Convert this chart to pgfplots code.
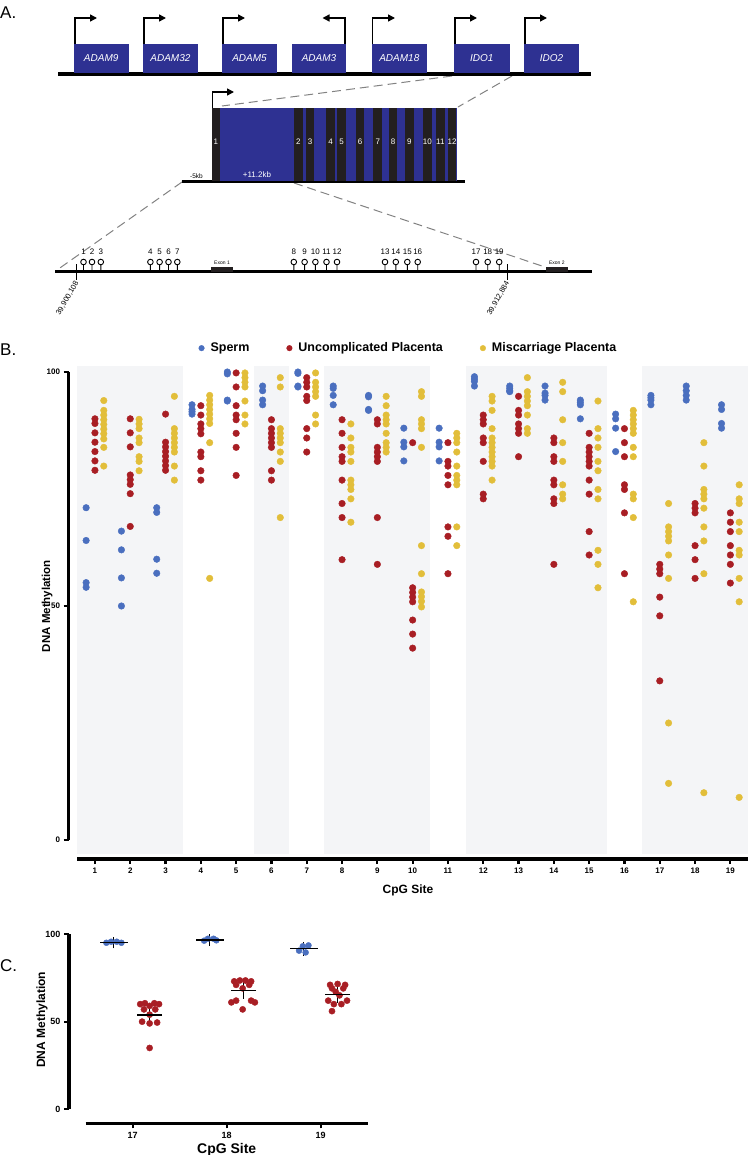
\documentclass[border=0pt]{standalone}
\usepackage{fontspec}
\setmainfont{Liberation Sans}
\usepackage{pgfplots}
\usepackage{pgfplotstable}
\pgfplotsset{compat=1.18}
\usetikzlibrary{arrows.meta}

\definecolor{sperm}{RGB}{74,111,191}
\definecolor{ucp}{RGB}{168,30,36}
\definecolor{mcp}{RGB}{226,190,58}
\definecolor{band}{RGB}{244,245,247}
\definecolor{gene}{RGB}{46,49,146}
\definecolor{exon}{RGB}{35,31,32}
\definecolor{dashgray}{RGB}{130,130,130}

% panel B: one row per sample, s = CpG site, v = % methylation
\pgfplotstableread[row sep=\\]{s v\\
1 71\\1 64\\1 55\\1 54\\
2 66\\2 62\\2 56\\2 50\\
3 71\\3 70\\3 60\\3 57\\
4 93\\4 92\\4 91.5\\4 91\\
5 100\\5 99.6\\5 94\\5 93.8\\
6 97\\6 96\\6 94\\6 93\\
7 100\\7 99.7\\7 97\\7 96.8\\
8 97\\8 96.5\\8 95\\8 93\\
9 95\\9 94.7\\9 92\\9 91.8\\
10 88\\10 85\\10 84\\10 81\\
11 88\\11 85\\11 84\\11 81\\
12 99\\12 98.5\\12 98\\12 97\\
13 97\\13 96.5\\13 96\\13 95.8\\
14 97\\14 95.5\\14 95\\14 94\\
15 94\\15 93.5\\15 93\\15 90\\
16 91\\16 90\\16 88\\16 83\\
17 95\\17 94.5\\17 94\\17 93\\
18 97\\18 96\\18 95\\18 94\\
19 93\\19 92\\19 89\\19 88\\
}\spermtab

\pgfplotstableread[row sep=\\]{s v\\
1 90\\1 89\\1 87\\1 85\\1 83\\1 81\\1 79\\
2 90\\2 87\\2 84\\2 78\\2 77\\2 76\\2 74\\2 67\\
3 91\\3 85\\3 84\\3 83\\3 82\\3 81\\3 80\\3 79\\
4 92.8\\4 90.8\\4 88.9\\4 87.9\\4 86.8\\4 82.9\\4 81.9\\4 78.9\\4 76.9\\
5 99.8\\5 96.8\\5 92.8\\5 90.8\\5 89.8\\5 86.9\\5 83.9\\5 77.9\\
6 89.8\\6 87.9\\6 86.9\\6 85.9\\6 84.9\\6 83.9\\6 78.9\\6 76.9\\
7 98.8\\7 97.8\\7 96.8\\7 94.8\\7 93.9\\7 87.9\\7 85.9\\7 82.9\\
8 89.8\\8 86.9\\8 83.9\\8 81.9\\8 80.9\\8 76.9\\8 71.9\\8 68.9\\8 59.9\\
9 89.8\\9 88.9\\9 83.9\\9 82.9\\9 81.9\\9 80.9\\9 68.9\\9 58.9\\
10 84.9\\10 53.9\\10 52.9\\10 51.9\\10 50.9\\10 47\\10 44\\10 41\\
11 84.9\\11 80.9\\11 79.9\\11 77.9\\11 75.9\\11 66.9\\11 64.9\\11 56.9\\
12 90.8\\12 89.8\\12 88.9\\12 85.9\\12 84.9\\12 80.9\\12 73.9\\12 72.9\\
13 94.8\\13 91.8\\13 90.8\\13 88.9\\13 87.9\\13 86.9\\13 81.9\\
14 85.9\\14 84.9\\14 81.9\\14 80.9\\14 76.9\\14 75.9\\14 72.9\\14 71.9\\14 58.9\\
15 86.9\\15 83.9\\15 82.9\\15 81.9\\15 80.9\\15 79.9\\15 76.9\\15 73.9\\15 65.9\\15 60.9\\
16 87.9\\16 84.9\\16 81.9\\16 75.9\\16 74.9\\16 69.9\\16 56.9\\
17 58.9\\17 57.9\\17 56.9\\17 51.9\\17 47.9\\17 34\\
18 71.9\\18 70.9\\18 69.9\\18 62.9\\18 59.9\\18 55.9\\
19 69.9\\19 67.9\\19 65.9\\19 62.9\\19 60.9\\19 58.9\\19 54.9\\
}\ucptab

\pgfplotstableread[row sep=\\]{s v\\
1 93.9\\1 91.8\\1 90.8\\1 89.8\\1 88.8\\1 87.8\\1 86.8\\1 85.7\\1 83.9\\1 79.9\\
2 89.9\\2 88.9\\2 87.9\\2 85.9\\2 84.9\\2 81.9\\2 80.9\\2 78.9\\
3 94.8\\3 87.9\\3 86.9\\3 85.9\\3 84.9\\3 83.9\\3 82.9\\3 79.9\\3 76.9\\
4 95\\4 94\\4 93\\4 92\\4 91\\4 90\\4 89\\4 84.9\\4 55.9\\
5 99.8\\5 98.8\\5 97.8\\5 96.8\\5 93.8\\5 90.8\\5 88.9\\
6 98.8\\6 96.8\\6 87.9\\6 86.9\\6 85.9\\6 84.9\\6 82.9\\6 80.9\\6 68.9\\
7 99.8\\7 97.8\\7 96.8\\7 95.8\\7 94.8\\7 90.8\\7 88.9\\
8 88.9\\8 85.9\\8 83.9\\8 82.9\\8 80.9\\8 76.9\\8 75.9\\8 74.9\\8 72.9\\8 67.9\\
9 94.8\\9 92.8\\9 90.8\\9 89.8\\9 88.9\\9 86.9\\9 84.9\\9 83.9\\9 82.9\\
10 95.8\\10 94.8\\10 89.8\\10 88.9\\10 87.9\\10 83.9\\10 62.9\\10 56.9\\10 53\\10 52\\10 51\\10 49.8\\
11 86.9\\11 85.9\\11 84.9\\11 82.9\\11 79.9\\11 77.9\\11 76.9\\11 75.9\\11 66.9\\11 62.9\\
12 94.8\\12 93.8\\12 91.8\\12 87.9\\12 85.9\\12 84.9\\12 83.9\\12 82.9\\12 81.9\\12 80.9\\12 79.9\\12 76.9\\
13 98.8\\13 95.8\\13 94.8\\13 93.8\\13 92.8\\13 90.8\\13 87.9\\13 86.9\\
14 97.8\\14 95.8\\14 89.8\\14 84.9\\14 80.9\\14 75.9\\14 73.9\\14 72.9\\
15 93.8\\15 87.9\\15 85.9\\15 83.9\\15 80.9\\15 78.9\\15 74.9\\15 72.9\\15 61.9\\15 58.9\\15 53.9\\
16 91.8\\16 90.8\\16 89.8\\16 88.9\\16 87.9\\16 86.9\\16 83.9\\16 81.9\\16 73.9\\16 72.9\\16 68.9\\16 50.9\\
17 71.9\\17 66.9\\17 65.9\\17 64.9\\17 63.9\\17 60.9\\17 55.9\\17 25\\17 12.1\\
18 84.9\\18 79.9\\18 74.9\\18 73.9\\18 72.9\\18 70.9\\18 66.9\\18 63.9\\18 56.9\\18 10.1\\
19 75.9\\19 72.9\\19 71.9\\19 67.9\\19 65.9\\19 61.9\\19 60.9\\19 55.9\\19 50.9\\19 9.1\\
}\mcptab

\newcommand\fs[1]{\fontsize{#1}{#1}\selectfont}

\begin{document}
\begin{tikzpicture}
\path[use as bounding box] (0pt,0pt) rectangle (750pt,-1155pt);

\node[anchor=west, inner sep=0pt, font=\fs{17}] at (0pt,-13pt) {A.};
\node[anchor=west, inner sep=0pt, font=\fs{17}] at (0pt,-350pt) {B.};
\node[anchor=west, inner sep=0pt, font=\fs{17}] at (0pt,-966pt) {C.};

% ---------- panel A: gene schematic, in pixel units ----------
\begin{axis}[scale only axis, width=750pt, height=320pt,
  at={(0pt,0pt)}, anchor=north west,
  xmin=0, xmax=750, ymin=0, ymax=320, y dir=reverse,
  hide axis, clip=false]
% dashed zoom lines
\draw[dashgray, line width=1pt, dash pattern=on 9pt off 5pt] (452,76) -- (222,106);
\draw[dashgray, line width=1pt, dash pattern=on 9pt off 5pt] (512,76) -- (458,107);
\draw[dashgray, line width=1pt, dash pattern=on 9pt off 5pt] (182,182) -- (57,270);
\draw[dashgray, line width=1pt, dash pattern=on 9pt off 5pt] (294,183) -- (545,267);
% locus
\draw[line width=3.5pt] (58,74) -- (591,74);
\fill[gene] (73.5,44) rectangle (128.8,73);
\fill[gene] (142.8,44) rectangle (198,73);
\fill[gene] (222,44) rectangle (277,73);
\fill[gene] (292,44) rectangle (346,73);
\fill[gene] (371.6,44) rectangle (427,73);
\fill[gene] (454,44) rectangle (509.6,73);
\fill[gene] (524,44) rectangle (579,73);
\begin{scope}[every node/.style={text=white, font=\itshape\fs{10}}]
\node at (101.2,58.5) {ADAM9};
\node at (170.4,58.5) {ADAM32};
\node at (249.5,58.5) {ADAM5};
\node at (319,58.5) {ADAM3};
\node at (399.3,58.5) {ADAM18};
\node at (481.8,58.5) {IDO1};
\node at (551.5,58.5) {IDO2};
\end{scope}
\begin{scope}[line width=1.4pt, -{Triangle[length=7pt,width=7pt]}]
\draw (74.8,44) -- (74.8,18) -- (97,18);
\draw (143.8,44) -- (143.8,18) -- (166,18);
\draw (223,44) -- (223,18) -- (245,18);
\draw (344.8,44) -- (344.8,18) -- (322.5,18);
\draw (372.6,44) -- (372.6,18) -- (395,18);
\draw (455,44) -- (455,18) -- (477,18);
\draw (525,44) -- (525,18) -- (547,18);
\end{scope}
% IDO1 gene structure
\draw[line width=3pt] (181.7,181.5) -- (465,181.5);
\fill[gene] (220,108) rectangle (456.5,181);
\fill[exon] (211.7,108) rectangle (220,181);
\fill[exon] (294,108) rectangle (302.7,181);
\fill[exon] (305.7,108) rectangle (314.3,181);
\fill[exon] (326,108) rectangle (335,181);
\fill[exon] (337.3,108) rectangle (346,181);
\fill[exon] (355.7,108) rectangle (364.3,181);
\fill[exon] (373.3,108) rectangle (382.3,181);
\fill[exon] (388.7,108) rectangle (397.3,181);
\fill[exon] (405,108) rectangle (413.7,181);
\fill[exon] (423,108) rectangle (431.7,181);
\fill[exon] (436,108) rectangle (444.7,181);
\fill[exon] (447.7,108) rectangle (456.3,181);
\begin{scope}[every node/.style={text=white, font=\fs{8}, inner sep=0pt}]
\node at (215.8,142) {1};
\node at (298.3,142) {2};
\node at (310,142) {3};
\node at (330.5,142) {4};
\node at (341.6,142) {5};
\node at (360,142) {6};
\node at (377.8,142) {7};
\node at (393,142) {8};
\node at (409.3,142) {9};
\node at (427.3,142) {10};
\node at (440.3,142) {11};
\node at (452,142) {12};
\node at (257,175) {+11.2kb};
\end{scope}
\node[font=\fs{6.5}, inner sep=0pt] at (196.5,176.5) {-5kb};
\draw[line width=1.4pt, -{Triangle[length=7pt,width=7pt]}] (212.5,108) -- (212.5,92) -- (234,92);
% CpG island region
\draw[line width=3pt] (55,271) -- (592,271);
\fill[exon] (211,266.5) rectangle (233,272);
\fill[exon] (545.8,266.5) rectangle (567.7,272);
\node[font=\fs{5}, inner sep=0pt] at (222,262.5) {Exon 1};
\node[font=\fs{5}, inner sep=0pt] at (556.8,262.5) {Exon 2};
\draw[line width=1pt] (76.5,264) -- (76.5,280);
\draw[line width=1pt] (507.3,264) -- (507.3,280);
\node[font=\fs{7.5}, rotate=60, anchor=east, inner sep=1pt] at (77.5,281) {39,900,108};
\node[font=\fs{7.5}, rotate=60, anchor=east, inner sep=1pt] at (508.3,281) {39,912,884};
\begin{scope}[line width=0.9pt]
\draw (83.5,271) -- (83.5,265) (83.5,262) circle (2.8pt);
\draw (92,271) -- (92,265) (92,262) circle (2.8pt);
\draw (100.8,271) -- (100.8,265) (100.8,262) circle (2.8pt);
\draw (150.4,271) -- (150.4,265) (150.4,262) circle (2.8pt);
\draw (159.6,271) -- (159.6,265) (159.6,262) circle (2.8pt);
\draw (168.5,271) -- (168.5,265) (168.5,262) circle (2.8pt);
\draw (177.3,271) -- (177.3,265) (177.3,262) circle (2.8pt);
\draw (293.8,271) -- (293.8,265) (293.8,262) circle (2.8pt);
\draw (304.6,271) -- (304.6,265) (304.6,262) circle (2.8pt);
\draw (315.4,271) -- (315.4,265) (315.4,262) circle (2.8pt);
\draw (326.5,271) -- (326.5,265) (326.5,262) circle (2.8pt);
\draw (337,271) -- (337,265) (337,262) circle (2.8pt);
\draw (385,271) -- (385,265) (385,262) circle (2.8pt);
\draw (395.8,271) -- (395.8,265) (395.8,262) circle (2.8pt);
\draw (407.3,271) -- (407.3,265) (407.3,262) circle (2.8pt);
\draw (417.7,271) -- (417.7,265) (417.7,262) circle (2.8pt);
\draw (476,271) -- (476,265) (476,262) circle (2.8pt);
\draw (487.7,271) -- (487.7,265) (487.7,262) circle (2.8pt);
\draw (499.2,271) -- (499.2,265) (499.2,262) circle (2.8pt);
\end{scope}
\begin{scope}[every node/.style={font=\fs{8}, inner sep=0pt}]
\node at (83.5,252) {1}; \node at (92,252) {2}; \node at (100.8,252) {3};
\node at (150.4,252) {4}; \node at (159.6,252) {5}; \node at (168.5,252) {6}; \node at (177.3,252) {7};
\node at (293.8,252) {8}; \node at (304.6,252) {9}; \node at (315.4,252) {10}; \node at (326.5,252) {11}; \node at (337,252) {12};
\node at (385,252) {13}; \node at (395.8,252) {14}; \node at (407.3,252) {15}; \node at (417.7,252) {16};
\node at (476,252) {17}; \node at (487.7,252) {18}; \node at (499.2,252) {19};
\end{scope}
\end{axis}

% ---------- panel B ----------
\begin{axis}[scale only axis, width=670.7pt, height=468pt,
  at={(77.3pt,-840pt)}, anchor=south west,
  xmin=0.5, xmax=19.5, ymin=0, ymax=100, clip=false,
  axis x line*=bottom, axis y line*=left,
  axis x line shift=19pt, axis y line shift=8.8pt,
  axis line style={line width=3.5pt},
  xtick={1,...,19}, ytick={0,50,100},
  tick align=outside, major tick length=5pt,
  tick style={line width=2.2pt, black},
  ticklabel style={font=\bfseries\fs{8}},
  /pgf/number format/assume math mode=true,
  xlabel={CpG Site}, ylabel={DNA Methylation},
  xlabel style={font=\bfseries\fs{12}, at={(axis description cs:0.493,-0.107)}, anchor=center},
  ylabel style={font=\bfseries\fs{11.5}, at={(axis description cs:-0.045,0.5)}, anchor=center},
  legend columns=3,
  legend style={draw=none, fill=none, font=\bfseries\fs{12.5},
    at={(axis description cs:0.176,1.051)}, anchor=west,
    /tikz/every odd column/.style={column sep=1pt},
    /tikz/every even column/.style={column sep=35pt}},
  legend image code/.code={\path[draw=none, fill=none] (-3pt,-3pt) rectangle (6pt,3pt);
    \draw[#1] plot coordinates {(0pt,0pt)};},
  legend image post style={mark size=2.8pt},
]
\addplot[fill=band, draw=none, forget plot] coordinates {(0.5,-3) (3.5,-3) (3.5,101.3) (0.5,101.3)} -- cycle;
\addplot[fill=band, draw=none, forget plot] coordinates {(5.5,-3) (6.5,-3) (6.5,101.3) (5.5,101.3)} -- cycle;
\addplot[fill=band, draw=none, forget plot] coordinates {(7.5,-3) (10.5,-3) (10.5,101.3) (7.5,101.3)} -- cycle;
\addplot[fill=band, draw=none, forget plot] coordinates {(11.5,-3) (15.5,-3) (15.5,101.3) (11.5,101.3)} -- cycle;
\addplot[fill=band, draw=none, forget plot] coordinates {(16.5,-3) (19.5,-3) (19.5,101.3) (16.5,101.3)} -- cycle;

\addplot[only marks, mark=*, mark size=3.3pt, mark options={draw=sperm, fill=sperm}]
  table[x expr=\thisrow{s}-0.25, y=v] {\spermtab};
\addplot[only marks, mark=*, mark size=3.3pt, mark options={draw=ucp, fill=ucp}]
  table[x=s, y=v] {\ucptab};
\addplot[only marks, mark=*, mark size=3.3pt, mark options={draw=mcp, fill=mcp}]
  table[x expr=\thisrow{s}+0.25, y=v] {\mcptab};
\legend{Sperm, Uncomplicated Placenta, Miscarriage Placenta}
\end{axis}

% ---------- panel C ----------
\begin{axis}[scale only axis, width=282pt, height=175.3pt,
  at={(85.7pt,-1109.3pt)}, anchor=south west,
  xmin=16.5, xmax=19.5, ymin=0, ymax=100, clip=false,
  axis x line*=bottom, axis y line*=left,
  axis x line shift=14pt, axis y line shift=16.7pt,
  axis line style={line width=3.5pt},
  xtick={17,18,19}, ytick={0,50,100},
  tick align=outside, major tick length=5pt,
  tick style={line width=2.2pt, black},
  yticklabel style={font=\bfseries\fs{9}},
  xticklabel style={font=\bfseries\fs{9}},
  /pgf/number format/assume math mode=true,
  xlabel={CpG Site}, ylabel={DNA Methylation},
  xlabel style={font=\bfseries\fs{14}, at={(axis description cs:0.5,-0.233)}, anchor=center},
  ylabel style={font=\bfseries\fs{12}, at={(axis description cs:-0.155,0.51)}, anchor=center},
]
\addplot[only marks, mark=*, mark size=3pt, mark options={draw=sperm, fill=sperm}] coordinates {
  (16.72,95) (16.77,95.6) (16.83,95.6) (16.88,95)
  (17.76,96.2) (17.8,97.3) (17.86,97.3) (17.89,96.4)
  (18.77,90.5) (18.81,93) (18.87,93.5) (18.84,89.5)
};
\addplot[only marks, mark=*, mark size=3.1pt, mark options={draw=ucp, fill=ucp}] coordinates {
  (17.08,60) (17.13,60.5) (17.23,60.5) (17.28,60) (17.18,59) (17.12,57) (17.24,57)
  (17.18,54) (17.1,50) (17.18,49) (17.26,49.5) (17.18,35)
  (18.08,73) (18.14,73.5) (18.2,73.5) (18.26,73) (18.1,71) (18.24,71) (18.17,69)
  (18.1,62) (18.26,62) (18.05,61) (18.3,61) (18.17,57)
  (19.1,71) (19.18,71.5) (19.26,71) (19.12,69) (19.24,69) (19.16,67) (19.2,65)
  (19.08,62) (19.28,62) (19.14,60) (19.22,60) (19.12,56)
};
% means with SEM
\addplot[only marks, mark=-, mark size=14pt, mark options={line width=1.2pt, black},
  error bars/.cd, y dir=both, y explicit,
  error bar style={line width=1.1pt, black},
  error mark options={mark size=5pt, line width=1.1pt, black}] coordinates {
  (16.8,95) +- (0,0.4)
  (17.82,96.6) +- (0,0.4)
  (18.82,91.6) +- (0,1.1)
};
\addplot[only marks, mark=-, mark size=12.5pt, mark options={line width=1.2pt, black},
  error bars/.cd, y dir=both, y explicit,
  error bar style={line width=1.1pt, black},
  error mark options={mark size=5pt, line width=1.1pt, black}] coordinates {
  (17.18,53.8) +- (0,2.1)
  (18.18,67.9) +- (0,2.1)
  (19.18,65.4) +- (0,1.7)
};
\end{axis}
\end{tikzpicture}
\end{document}
